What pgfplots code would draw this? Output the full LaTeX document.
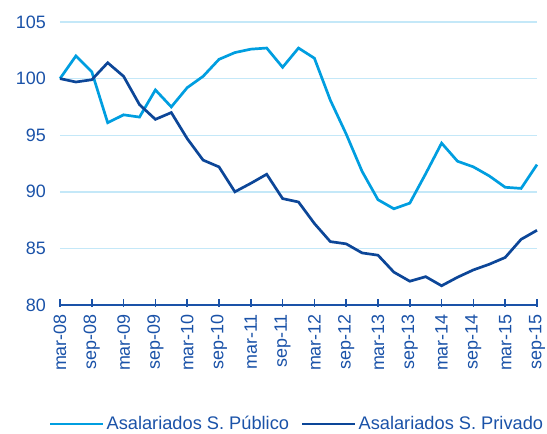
\documentclass[border=0pt]{standalone}
\usepackage{pgfplots}
\pgfplotsset{compat=1.18}
\usepackage{fontspec}
\setmainfont{Liberation Sans}
\definecolor{pub}{RGB}{0,158,224}
\definecolor{priv}{RGB}{12,70,152}
\definecolor{txt}{RGB}{26,82,168}
\definecolor{gridc}{RGB}{196,232,248}
\pgfplotstableread{
i pub priv
0 100.0 100.0
1 102.0 99.7
2 100.6 99.9
3 96.1 101.4
4 96.8 100.2
5 96.6 97.7
6 99.0 96.4
7 97.5 97.0
8 99.2 94.7
9 100.2 92.8
10 101.7 92.2
11 102.3 90.0
12 102.6 90.75
13 102.7 91.55
14 101.0 89.4
15 102.7 89.1
16 101.8 87.2
17 98.1 85.6
18 95.1 85.4
19 91.8 84.6
20 89.3 84.4
21 88.5 82.9
22 89.0 82.1
23 91.6 82.5
24 94.3 81.7
25 92.7 82.45
26 92.2 83.1
27 91.4 83.6
28 90.4 84.2
29 90.3 85.8
30 92.4 86.6
}\datatable
\begin{document}
\begin{tikzpicture}
\fontsize{18}{21}\selectfont
\begin{axis}[
  at={(0,0)}, anchor=south west,
  scale only axis, width=477bp, height=283bp,
  xmin=0, xmax=30, ymin=80, ymax=105,
  ytick={80,85,90,95,100,105},
  xtick={0,2,...,30},
  xticklabels={mar-08,sep-08,mar-09,sep-09,mar-10,sep-10,mar-11,sep-11,mar-12,sep-12,mar-13,sep-13,mar-14,sep-14,mar-15,sep-15},
  axis x line*=bottom, axis y line*=left,
  x axis line style={draw=txt, line width=2.2bp, -},
  y axis line style={draw=none},
  ymajorgrids, grid style={gridc, line width=1.4bp},
  major tick length=8bp,
  xtick style={draw=txt, line width=1.6bp, yshift=-2bp},
  ytick style={draw=none},
  tick label style={font=\fontsize{18}{21}\selectfont, text=txt},
  x tick label style={rotate=90, anchor=east, xshift=-3bp},
  y tick label style={anchor=east, xshift=-8bp},
  yticklabel style={/pgf/number format/assume math mode=true},
  clip=false,
  legend columns=2,
  legend style={at={(0.497,-0.42)}, anchor=center, draw=none, fill=none,
    font=\fontsize{18.3}{21}\selectfont, text=txt,
    /tikz/every even column/.append style={column sep=10bp}},
  legend image code/.code={\draw[#1, line width=2.6bp] (0bp,0bp) -- (53bp,0bp);},
]
\addplot[pub, line width=2.7bp] table[x=i, y=pub] {\datatable};
\addlegendentry{Asalariados S. Público}
\addplot[priv, line width=2.7bp] table[x=i, y=priv] {\datatable};
\addlegendentry{Asalariados S. Privado}
\end{axis}
\pgfresetboundingbox
\useasboundingbox (-60bp,-129bp) rectangle (487bp,305bp);
\end{tikzpicture}
\end{document}
